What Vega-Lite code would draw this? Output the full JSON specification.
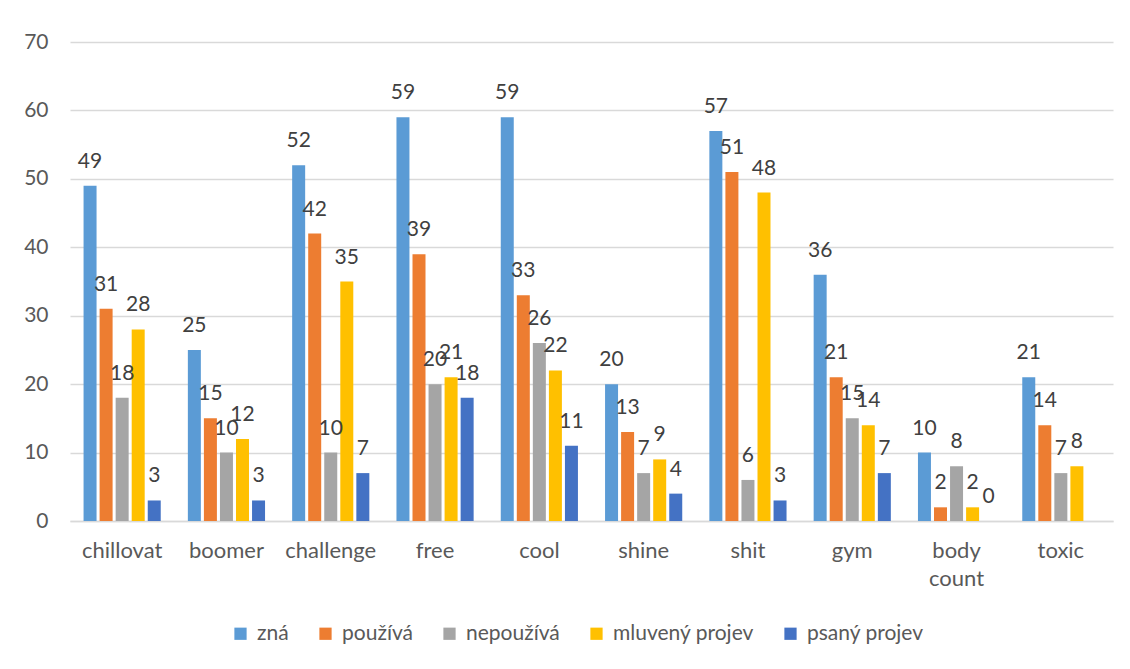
{
  "$schema": "https://vega.github.io/schema/vega-lite/v6.json",
  "autosize": "none",
  "width": 1043,
  "height": 479,
  "padding": {"left": 70, "top": 42, "right": 17, "bottom": 148},
  "background": "white",
  "config": {
    "view": {"stroke": null},
    "font": "Lato",
    "axis": {"labelFont": "Lato", "labelColor": "#595959", "titleFont": "Lato"},
    "legend": {"labelFont": "Lato"}
  },
  "data": {
    "values": [
      {"word": "chillovat", "series": "zná", "value": 49},
      {"word": "chillovat", "series": "používá", "value": 31},
      {"word": "chillovat", "series": "nepoužívá", "value": 18},
      {"word": "chillovat", "series": "mluvený projev", "value": 28},
      {"word": "chillovat", "series": "psaný projev", "value": 3},
      {"word": "boomer", "series": "zná", "value": 25},
      {"word": "boomer", "series": "používá", "value": 15},
      {"word": "boomer", "series": "nepoužívá", "value": 10},
      {"word": "boomer", "series": "mluvený projev", "value": 12},
      {"word": "boomer", "series": "psaný projev", "value": 3},
      {"word": "challenge", "series": "zná", "value": 52},
      {"word": "challenge", "series": "používá", "value": 42},
      {"word": "challenge", "series": "nepoužívá", "value": 10},
      {"word": "challenge", "series": "mluvený projev", "value": 35},
      {"word": "challenge", "series": "psaný projev", "value": 7},
      {"word": "free", "series": "zná", "value": 59},
      {"word": "free", "series": "používá", "value": 39},
      {"word": "free", "series": "nepoužívá", "value": 20},
      {"word": "free", "series": "mluvený projev", "value": 21},
      {"word": "free", "series": "psaný projev", "value": 18},
      {"word": "cool", "series": "zná", "value": 59},
      {"word": "cool", "series": "používá", "value": 33},
      {"word": "cool", "series": "nepoužívá", "value": 26},
      {"word": "cool", "series": "mluvený projev", "value": 22},
      {"word": "cool", "series": "psaný projev", "value": 11},
      {"word": "shine", "series": "zná", "value": 20},
      {"word": "shine", "series": "používá", "value": 13},
      {"word": "shine", "series": "nepoužívá", "value": 7},
      {"word": "shine", "series": "mluvený projev", "value": 9},
      {"word": "shine", "series": "psaný projev", "value": 4},
      {"word": "shit", "series": "zná", "value": 57},
      {"word": "shit", "series": "používá", "value": 51},
      {"word": "shit", "series": "nepoužívá", "value": 6},
      {"word": "shit", "series": "mluvený projev", "value": 48},
      {"word": "shit", "series": "psaný projev", "value": 3},
      {"word": "gym", "series": "zná", "value": 36},
      {"word": "gym", "series": "používá", "value": 21},
      {"word": "gym", "series": "nepoužívá", "value": 15},
      {"word": "gym", "series": "mluvený projev", "value": 14},
      {"word": "gym", "series": "psaný projev", "value": 7},
      {"word": "body count", "series": "zná", "value": 10},
      {"word": "body count", "series": "používá", "value": 2},
      {"word": "body count", "series": "nepoužívá", "value": 8},
      {"word": "body count", "series": "mluvený projev", "value": 2},
      {"word": "body count", "series": "psaný projev", "value": 0},
      {"word": "toxic", "series": "zná", "value": 21},
      {"word": "toxic", "series": "používá", "value": 14},
      {"word": "toxic", "series": "nepoužívá", "value": 7},
      {"word": "toxic", "series": "mluvený projev", "value": 8}
    ]
  },
  "encoding": {
    "x": {
      "field": "word",
      "type": "nominal",
      "sort": null,
      "title": null,
      "scale": {"paddingInner": 0.26, "paddingOuter": 0.13},
      "axis": {
        "labelAngle": 0,
        "labelFontSize": 22,
        "labelPadding": 19,
        "labelBaseline": "top",
        "ticks": false,
        "domainColor": "#D9D9D9",
        "domainWidth": 1.5,
        "labelExpr": "datum.value == 'body count' ? ['body', 'count'] : datum.value",
        "labelLineHeight": 28
      }
    },
    "xOffset": {
      "field": "series",
      "type": "nominal",
      "sort": ["zná", "používá", "nepoužívá", "mluvený projev", "psaný projev"],
      "scale": {"domain": ["zná", "používá", "nepoužívá", "mluvený projev", "psaný projev"], "paddingInner": 0.19}
    },
    "y": {
      "field": "value",
      "type": "quantitative",
      "title": null,
      "scale": {"domain": [0, 70], "nice": false},
      "axis": {
        "values": [0, 10, 20, 30, 40, 50, 60, 70],
        "labelFontSize": 21,
        "labelPadding": 22,
        "ticks": false,
        "domain": false,
        "gridColor": "#D9D9D9",
        "gridWidth": 1.5
      }
    }
  },
  "layer": [
    {
      "mark": {"type": "bar"},
      "encoding": {
        "color": {
          "field": "series",
          "type": "nominal",
          "sort": ["zná", "používá", "nepoužívá", "mluvený projev", "psaný projev"],
          "scale": {
            "domain": ["zná", "používá", "nepoužívá", "mluvený projev", "psaný projev"],
            "range": ["#5B9BD5", "#ED7D31", "#A5A5A5", "#FFC000", "#4472C4"]
          },
          "legend": {
            "title": null,
            "orient": "none",
            "direction": "horizontal",
            "legendX": 160,
            "legendY": 581,
            "symbolType": "square",
            "symbolSize": 150,
            "symbolStrokeWidth": 0,
            "labelFontSize": 21,
            "labelColor": "#595959",
            "labelOffset": 6,
            "columnPadding": 26
          }
        }
      }
    },
    {
      "mark": {"type": "text", "fontSize": 21, "color": "#404040", "baseline": "alphabetic", "dy": -18, "align": "center"},
      "encoding": {
        "text": {"field": "value", "type": "quantitative"}
      }
    }
  ]
}
